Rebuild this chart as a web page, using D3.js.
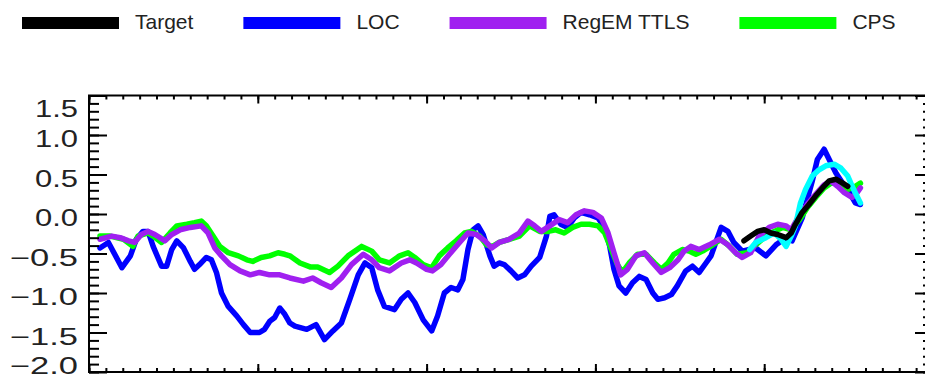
<!DOCTYPE html>
<html>
<head>
<meta charset="utf-8">
<script src="https://cdn.jsdelivr.net/npm/d3@7"></script>
<style>
body { margin: 0; background: #fff; }
text { font-family: "Liberation Sans", Arial, sans-serif; }
</style>
</head>
<body>
<svg width="925" height="374"></svg>
<script>
var width = 925, height = 374;

// legend
var legendNames = ['Target', 'LOC', 'RegEM TTLS', 'CPS'];
var legendColors = ['#000000', '#0000ff', '#a020f0', '#00ff00'];

// y axis labels
var yMajor = [-2.0, -1.5, -1.0, -0.5, 0.0, 0.5, 1.0, 1.5];

// LOC (blue)
var locYears = [1013,1023,1039,1049,1056,1064,1070,1076,1086,1092,
  1098,1104,1112,1120,1125,1131,1139,1145,1151,1157,
  1165,1175,1183,1191,1202,1208,1214,1220,1226,1232,
  1238,1244,1258,1269,1279,1289,1299,1309,1319,1327,
  1335,1342,1350,1362,1370,1378,1386,1396,1406,1413,
  1421,1429,1437,1443,1449,1455,1461,1467,1475,1480,
  1486,1492,1500,1508,1516,1524,1534,1542,1546,1551,
  1559,1567,1575,1583,1593,1603,1611,1617,1622,1628,
  1636,1644,1652,1660,1668,1674,1682,1690,1697,1707,
  1715,1723,1731,1737,1749,1757,1764,1774,1790,1802,
  1814,1826,1833,1845,1857,1863,1871,1877,1885,1893,
  1901,1908,1914];
var locVals = [-0.43,-0.36,-0.68,-0.53,-0.32,-0.22,-0.22,-0.41,-0.66,-0.66,
  -0.45,-0.34,-0.43,-0.60,-0.70,-0.64,-0.55,-0.58,-0.74,-1.00,
  -1.17,-1.29,-1.40,-1.50,-1.50,-1.46,-1.36,-1.31,-1.19,-1.27,
  -1.38,-1.42,-1.46,-1.40,-1.59,-1.48,-1.38,-1.08,-0.77,-0.62,
  -0.68,-0.96,-1.17,-1.21,-1.08,-1.00,-1.12,-1.34,-1.48,-1.29,
  -1.00,-0.93,-0.96,-0.83,-0.45,-0.20,-0.15,-0.26,-0.53,-0.66,
  -0.62,-0.64,-0.72,-0.81,-0.77,-0.66,-0.55,-0.28,-0.03,-0.01,
  -0.13,-0.17,-0.05,0.02,-0.01,-0.05,-0.17,-0.41,-0.70,-0.91,
  -1.00,-0.87,-0.79,-0.83,-1.00,-1.08,-1.06,-1.02,-0.91,-0.72,
  -0.66,-0.74,-0.62,-0.53,-0.17,-0.22,-0.36,-0.47,-0.43,-0.53,
  -0.39,-0.30,-0.34,-0.05,0.42,0.69,0.82,0.69,0.52,0.39,
  0.27,0.14,0.12];

// CPS (green)
var cpsYears = [1013,1025,1041,1052,1058,1070,1076,1086,1096,1104,
  1116,1125,1133,1139,1147,1155,1165,1177,1187,1194,
  1204,1214,1224,1232,1238,1250,1262,1271,1285,1295,
  1307,1323,1335,1344,1356,1368,1378,1386,1396,1406,
  1415,1425,1435,1445,1453,1463,1471,1478,1486,1498,
  1510,1522,1534,1544,1553,1563,1573,1583,1593,1603,
  1611,1619,1626,1632,1640,1650,1660,1670,1678,1686,
  1693,1703,1711,1719,1727,1739,1749,1759,1768,1780,
  1790,1802,1812,1822,1832,1842,1851,1861,1871,1879,
  1889,1899,1908,1914];
var cpsVals = [-0.28,-0.28,-0.32,-0.41,-0.28,-0.24,-0.28,-0.36,-0.24,-0.15,
  -0.13,-0.11,-0.09,-0.15,-0.28,-0.41,-0.49,-0.53,-0.58,-0.60,
  -0.55,-0.53,-0.49,-0.51,-0.53,-0.62,-0.67,-0.67,-0.74,-0.66,
  -0.53,-0.41,-0.47,-0.58,-0.62,-0.53,-0.49,-0.55,-0.64,-0.68,
  -0.53,-0.43,-0.34,-0.24,-0.22,-0.28,-0.39,-0.41,-0.36,-0.32,
  -0.28,-0.15,-0.22,-0.22,-0.20,-0.24,-0.17,-0.13,-0.13,-0.15,
  -0.24,-0.45,-0.64,-0.74,-0.62,-0.51,-0.51,-0.62,-0.70,-0.62,
  -0.51,-0.45,-0.47,-0.51,-0.47,-0.39,-0.32,-0.41,-0.51,-0.49,
  -0.39,-0.28,-0.22,-0.17,-0.20,-0.07,0.08,0.21,0.33,0.39,
  0.39,0.31,0.35,0.39];

// RegEM TTLS (purple)
var regemYears = [1013,1027,1037,1047,1054,1062,1070,1078,1090,1098,
  1108,1120,1133,1141,1149,1157,1167,1179,1191,1202,
  1214,1226,1238,1254,1265,1275,1287,1299,1311,1325,
  1335,1344,1356,1370,1380,1388,1400,1407,1417,1427,
  1439,1449,1459,1469,1477,1486,1498,1510,1520,1528,
  1536,1546,1557,1567,1577,1587,1597,1607,1615,1622,
  1630,1638,1648,1658,1668,1678,1688,1698,1705,1713,
  1723,1735,1747,1757,1766,1774,1784,1794,1806,1816,
  1826,1832,1842,1851,1861,1871,1879,1887,1895,1904,
  1910,1914];
var regemVals = [-0.32,-0.28,-0.30,-0.34,-0.36,-0.26,-0.22,-0.26,-0.34,-0.26,
  -0.20,-0.17,-0.15,-0.24,-0.43,-0.53,-0.64,-0.72,-0.77,-0.74,
  -0.77,-0.77,-0.81,-0.85,-0.81,-0.87,-0.93,-0.81,-0.64,-0.51,
  -0.58,-0.68,-0.72,-0.62,-0.58,-0.62,-0.70,-0.72,-0.64,-0.51,
  -0.36,-0.24,-0.26,-0.34,-0.43,-0.36,-0.32,-0.24,-0.09,-0.15,
  -0.22,-0.15,-0.07,-0.11,-0.01,0.04,0.02,-0.05,-0.24,-0.49,
  -0.77,-0.70,-0.53,-0.49,-0.62,-0.74,-0.68,-0.58,-0.47,-0.41,
  -0.45,-0.39,-0.32,-0.39,-0.49,-0.55,-0.49,-0.28,-0.17,-0.13,
  -0.15,-0.20,-0.01,0.12,0.25,0.37,0.42,0.35,0.27,0.21,
  0.27,0.33];

// cyan series (calibration period only)
var cyanYears = [1783,1790,1802,1812,1820,1826,1832,1837,1843,1849,
  1857,1865,1873,1883,1891,1899,1906,1914];
var cyanVals = [-0.45,-0.36,-0.30,-0.24,-0.32,-0.41,-0.28,-0.15,0.14,0.31,
  0.48,0.56,0.61,0.63,0.58,0.48,0.31,0.14];

// Target (black)
var targetYears = [1776,1784,1792,1800,1808,1816,1826,1832,1837,1845,
  1853,1861,1869,1877,1885,1893,1899];
var targetVals = [-0.34,-0.28,-0.22,-0.20,-0.24,-0.26,-0.30,-0.24,-0.13,0.02,
  0.12,0.23,0.33,0.42,0.44,0.39,0.35];

var svg = d3.select('svg');
svg.append('rect').attr('width', width).attr('height', height).attr('fill', 'white');

// plot box (right edge lies just outside the window)
var plotLeft = 89, plotRight = 933, plotTop = 95.5, plotBottom = 372;

var x = d3.scaleLinear().domain([1000, 2000]).range([plotLeft, plotRight]);
var y = d3.scaleLinear().domain([-2.0, 1.5]).range([plotBottom, plotTop]);

function zip(a, b) {
    return a.map(function(d, i) { return [d, b[i]]; });
}

var series = [
    { data: zip(locYears, locVals), color: '#0000ff' },
    { data: zip(cpsYears, cpsVals), color: '#00ff00' },
    { data: zip(regemYears, regemVals), color: '#a020f0' },
    { data: zip(cyanYears, cyanVals), color: '#00ffff' },
    { data: zip(targetYears, targetVals), color: '#000000' }
];

var line = d3.line()
    .x(function(d) { return x(d[0]); })
    .y(function(d) { return y(d[1]); });

var gLines = svg.append('g');
gLines.selectAll('.series')
    .data(series)
    .enter()
    .append('path')
    .attr('class', 'series')
    .attr('d', function(d) { return line(d.data); })
    .attr('fill', 'none')
    .attr('stroke', function(d) { return d.color; })
    .attr('stroke-width', 5.5)
    .attr('stroke-linejoin', 'round')
    .attr('stroke-linecap', 'round');

// ticks, all pointing inward
var yMinor = d3.range(-20, 16).map(function(d) { return d / 10; });
var xMajor = d3.range(1000, 2001, 200);
var xMinor = d3.range(1000, 2001, 20);

function addAxis(axis, transform) {
    var g = svg.append('g').attr('transform', transform).call(axis);
    g.select('.domain').remove();
    g.selectAll('line').attr('stroke', 'black').attr('stroke-width', 2);
    return g;
}

addAxis(d3.axisLeft(y).tickValues(yMinor).tickSize(-10).tickFormat(''), 'translate(' + plotLeft + ',0)');
addAxis(d3.axisLeft(y).tickValues(yMajor).tickSize(-18).tickFormat(''), 'translate(' + plotLeft + ',0)');
addAxis(d3.axisRight(y).tickValues(yMinor).tickSize(-10).tickFormat(''), 'translate(' + plotRight + ',0)');
addAxis(d3.axisRight(y).tickValues(yMajor).tickSize(-18).tickFormat(''), 'translate(' + plotRight + ',0)');
addAxis(d3.axisBottom(x).tickValues(xMinor).tickSize(-4).tickFormat(''), 'translate(0,' + plotBottom + ')');
addAxis(d3.axisBottom(x).tickValues(xMajor).tickSize(-8).tickFormat(''), 'translate(0,' + plotBottom + ')');
addAxis(d3.axisTop(x).tickValues(xMinor).tickSize(-4).tickFormat(''), 'translate(0,' + plotTop + ')');
addAxis(d3.axisTop(x).tickValues(xMajor).tickSize(-8).tickFormat(''), 'translate(0,' + plotTop + ')');

// frame
svg.append('rect')
    .attr('x', plotLeft).attr('y', plotTop)
    .attr('width', plotRight - plotLeft).attr('height', plotBottom - plotTop)
    .attr('fill', 'none').attr('stroke', 'black').attr('stroke-width', 2);

// y labels: end labels are pulled inside the axis range
function labelShift(d) {
    if (d === 1.5) return 21.5;
    if (d === -2.0) return 2;
    return 12;
}

svg.selectAll('.ylabel')
    .data(yMajor)
    .enter()
    .append('text')
    .attr('class', 'ylabel')
    .attr('x', 78)
    .attr('y', function(d) { return y(d) + labelShift(d); })
    .attr('text-anchor', 'end')
    .attr('font-size', 23)
    .attr('fill', '#222')
    .attr('textLength', function(d) { return d < 0 ? 68 : 43; })
    .attr('lengthAdjust', 'spacingAndGlyphs')
    .text(function(d) { return (d < 0 ? '\u2212' : '') + Math.abs(d).toFixed(1); });

// legend
var gLegend = svg.append('g');
var lx = 22;
legendNames.forEach(function(name, i) {
    gLegend.append('rect')
        .attr('x', lx).attr('y', 17)
        .attr('width', 97).attr('height', 12)
        .attr('fill', legendColors[i]);
    var t = gLegend.append('text')
        .attr('x', lx + 113).attr('y', 28.5)
        .attr('font-size', 21)
        .attr('fill', '#222')
        .text(name);
    lx += 113 + t.node().getComputedTextLength() + 50;
});
</script>
</body>
</html>
